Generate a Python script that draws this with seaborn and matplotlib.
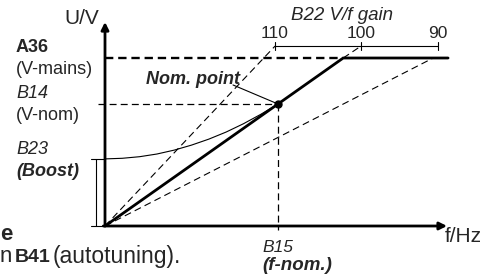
import matplotlib
matplotlib.use('Agg')
import matplotlib.pyplot as plt
import pandas as pd
import seaborn as sns

# Dados do diagrama V/f (unidades normalizadas: f_nom = 1, V_nom = 1)
f_nom = 1.0
v_nom = 1.0
v_mains = 1.377
v_boost = 0.55
f_end = 1.983
v_gain_scale = 1.475

gain_labels = ['110', '100', '90']
gain_ticks_f = [0.983, 1.48, 1.925]

# curva com boost
boost_f = [0.0, 0.1, 0.2, 0.3, 0.4, 0.5, 0.6, 0.7, 0.8, 0.9, 1.0]
boost_v = [0.55, 0.555, 0.568, 0.59, 0.622, 0.663, 0.712, 0.77, 0.838, 0.915, 1.0]

main_f = [0.0, 1.377, f_end]
main_v = [0.0, 1.377, 1.377]
steep_f = [0.0, 0.983]
steep_v = [0.0, 1.475]
shallow_f = [0.0, 1.897]
shallow_v = [0.0, 1.377]
ext_f = [1.377, 1.48]
ext_v = [1.377, 1.475]

sns.set_theme(style='white')
plt.rcParams['font.family'] = ['Liberation Sans', 'DejaVu Sans']
plt.rcParams['lines.scale_dashes'] = False

fig = plt.figure(figsize=(4.93, 2.74), dpi=100)
ax = fig.add_axes([0, 0, 1, 1])
ax.set_xlim(-105 / 173, 388 / 173)
ax.set_ylim(-48 / 122, 226 / 122)
ax.axis('off')

k = 'black'

# linha principal
df_main = pd.DataFrame({'f': main_f, 'v': main_v})
sns.lineplot(data=df_main, x='f', y='v', ax=ax, color=k, lw=2.0, sort=False, estimator=None)

# curva de boost
df_boost = pd.DataFrame({'f': boost_f, 'v': boost_v})
sns.lineplot(data=df_boost, x='f', y='v', ax=ax, color=k, lw=0.8, sort=False, estimator=None)

thin_dash = (0, (5, 3))
ax.plot(steep_f, steep_v, color=k, lw=0.8, ls=thin_dash)
ax.plot(shallow_f, shallow_v, color=k, lw=0.8, ls=thin_dash)
ax.plot(ext_f, ext_v, color=k, lw=0.8, ls=thin_dash)

# linhas de referencia
ax.plot([0, main_f[1]], [v_mains, v_mains], color=k, lw=1.7, ls=(0, (6, 3.5)))
ax.plot([-0.04, f_nom], [v_nom, v_nom], color=k, lw=0.9, ls=thin_dash)
ax.plot([f_nom, f_nom], [v_nom, -0.033], color=k, lw=0.9, ls=thin_dash)

# escala do ganho V/f
ax.plot([gain_ticks_f[0], gain_ticks_f[-1]], [v_gain_scale, v_gain_scale], color=k, lw=0.8)
for fx, lab in zip(gain_ticks_f, gain_labels):
    ax.plot([fx, fx], [v_gain_scale - 0.035, v_gain_scale + 0.035], color=k, lw=0.8)
    ax.text(fx, v_gain_scale + 0.105, lab, ha='center', va='center', fontsize=12.5)

# colchete do boost
ax.plot([-0.052, -0.052], [0, v_boost], color=k, lw=0.8)
ax.plot([-0.081, 0], [v_boost, v_boost], color=k, lw=0.8)
ax.plot([-0.081, 0], [0, 0], color=k, lw=0.8)

# ponto nominal
ax.plot([0.74, f_nom], [1.156, v_nom], color=k, lw=0.8)
ax.plot([f_nom], [v_nom], 'o', color=k, ms=5)

# eixos com setas
arr = dict(arrowstyle='-|>', color=k, lw=2.0, mutation_scale=11, shrinkA=0, shrinkB=0)
ax.annotate('', xy=(0, 1.672), xytext=(0, 0), arrowprops=arr)
ax.annotate('', xy=(1.977, 0), xytext=(-0.01, 0), arrowprops=arr)


def px(x, y):
    return x / 493, 1 - y / 274


fs = 13
fig.text(*px(64, 18), 'U/V', fontsize=15, va='center')
fig.text(*px(16, 47), 'A36', fontsize=fs, weight='bold', va='center')
fig.text(*px(16, 69), '(V-mains)', fontsize=fs, va='center')
fig.text(*px(16, 94), 'B14', fontsize=fs, style='italic', va='center')
fig.text(*px(16, 115), '(V-nom)', fontsize=fs, va='center')
fig.text(*px(16, 150), 'B23', fontsize=fs, style='italic', va='center')
fig.text(*px(16, 172), '(Boost)', fontsize=fs, style='italic', weight='bold', va='center')
fig.text(*px(146, 80), 'Nom. point', fontsize=fs, style='italic', weight='bold', va='center')
fig.text(*px(291, 15), 'B22 V/f gain', fontsize=13.5, style='italic', va='center')
fig.text(*px(445, 237), 'f/Hz', fontsize=15, va='center')
fig.text(*px(262, 247), 'B15', fontsize=12.5, style='italic', va='center')
fig.text(*px(262, 266), '(f-nom.)', fontsize=13.5, style='italic', weight='bold', va='center')

# texto cortado do documento
fig.text(*px(0, 234), 'e', fontsize=16, weight='bold', va='center')
fig.text(*px(0, 257), 'n', fontsize=16, va='center')
fig.text(*px(15, 257), 'B41', fontsize=14, weight='bold', va='center')
fig.text(*px(53, 257), '(autotuning).', fontsize=16.5, va='center')

fig.savefig('out.png', dpi=100)
